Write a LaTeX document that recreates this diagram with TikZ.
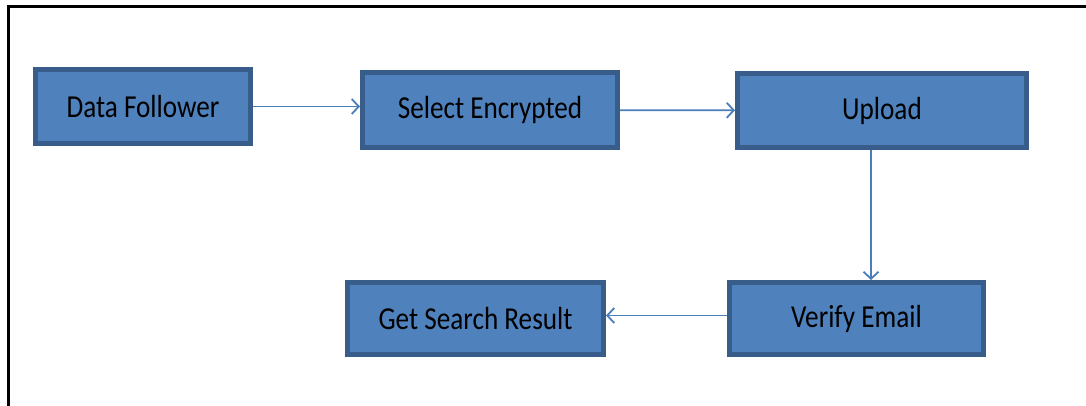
\documentclass[tikz,border=0pt]{standalone}
\usepackage{fontspec}
\setmainfont{Carlito}
\usetikzlibrary{arrows.meta}
\definecolor{boxfill}{HTML}{4F81BD}
\definecolor{boxline}{HTML}{385D8A}
\definecolor{flowline}{HTML}{4A7EBB}
\newcommand{\steptext}[1]{\raisebox{-3pt}{\scalebox{0.85}[1]{#1}}}
\begin{document}
\begin{tikzpicture}[x=1pt,y=-1pt,
  box/.style={draw=boxline, fill=boxfill, line width=5pt, inner sep=0pt,
    font=\fontsize{32}{38}\selectfont},
  flow/.style={draw=flowline, line width=1.8pt,
    -{Straight Barb[length=7pt,width=15pt,line width=1.8pt]}}]
\useasboundingbox (0,0) rectangle (1086,406);
% frame
\draw[line width=3pt] (1086,7) -- (8,7) -- (8,406);
% steps
\node[box, minimum width=215pt, minimum height=74pt] (df) at (143,106.5) {\steptext{Data Follower}};
\node[box, minimum width=255pt, minimum height=75pt] (se) at (490,110) {\steptext{Select Encrypted}};
\node[box, minimum width=289pt, minimum height=74pt] (up) at (882,110.5) {\steptext{Upload}};
\node[box, minimum width=254pt, minimum height=72pt] (ve) at (856.5,318.5) {\steptext{Verify Email}};
\node[box, minimum width=256pt, minimum height=72pt] (gs) at (475.5,318.5) {\steptext{Get Search Result}};
% connectors
\draw[flow] (df.east) -- (df.east -| se.west);
\draw[flow] (se) -- (up);
\draw[flow] ([xshift=-11pt]up.south) -- ([xshift=-11pt]up.south |- ve.north);
\draw[flow] ([yshift=3pt]ve.west) -- ([yshift=3pt]gs.east);
\end{tikzpicture}
\end{document}
